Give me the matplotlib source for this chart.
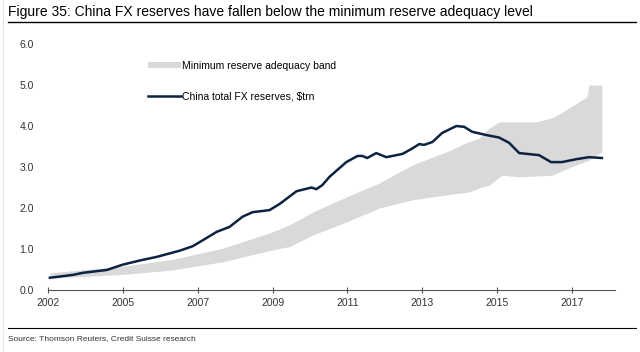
import matplotlib
matplotlib.use('Agg')
import matplotlib.pyplot as plt
from matplotlib.lines import Line2D
from matplotlib.patches import Patch

# China total FX reserves, $trn (x in fractional years)
res_year = [2003.05, 2003.67, 2003.93, 2004.57, 2005.0, 2005.45, 2005.91, 2006.52,
            2006.87, 2007.2, 2007.51, 2007.85, 2008.2, 2008.47, 2008.75, 2008.92,
            2009.19, 2009.64, 2010.04, 2010.17, 2010.33, 2010.52, 2010.97, 2011.27,
            2011.4, 2011.53, 2011.77, 2012.04, 2012.47, 2012.71, 2012.92, 2013.05,
            2013.27, 2013.53, 2013.91, 2014.12, 2014.33, 2014.71, 2015.05, 2015.32,
            2015.59, 2016.12, 2016.44, 2016.73, 2017.11, 2017.45, 2017.8]
reserves = [0.30, 0.37, 0.42, 0.49, 0.62, 0.72, 0.81, 0.96,
            1.07, 1.25, 1.42, 1.54, 1.79, 1.90, 1.93, 1.95,
            2.10, 2.41, 2.50, 2.46, 2.56, 2.76, 3.12, 3.27,
            3.27, 3.22, 3.34, 3.24, 3.32, 3.44, 3.56, 3.54,
            3.61, 3.83, 4.00, 3.98, 3.86, 3.78, 3.72, 3.59,
            3.34, 3.29, 3.12, 3.12, 3.19, 3.24, 3.22]

# Minimum reserve adequacy band
band_year = [2003.05, 2005.0, 2006.33, 2007.67, 2009.0, 2009.45, 2010.07, 2010.97,
             2011.85, 2012.73, 2013.64, 2014.25, 2014.52, 2014.79, 2015.05, 2015.13,
             2015.59, 2016.04, 2016.47, 2016.84, 2017.11, 2017.4, 2017.45, 2017.8]
band_low = [0.29, 0.38, 0.49, 0.69, 0.98, 1.06, 1.34, 1.66,
            2.00, 2.20, 2.32, 2.39, 2.49, 2.56, 2.75, 2.80,
            2.76, 2.78, 2.80, 2.95, 3.05, 3.15, 3.17, 3.37]
band_high = [0.42, 0.58, 0.75, 1.02, 1.42, 1.59, 1.90, 2.27,
             2.61, 3.05, 3.37, 3.62, 3.70, 3.95, 4.10, 4.10,
             4.10, 4.10, 4.20, 4.39, 4.55, 4.71, 5.00, 5.00]

tick_pos = [2003.0, 2005, 2007, 2009, 2011, 2013, 2015, 2017]
tick_labels = ["2002", "2005", "2007", "2009", "2011", "2013", "2015", "2017"]

plt.rcParams['font.family'] = ['Liberation Sans', 'DejaVu Sans']

fig = plt.figure(figsize=(6.4, 3.52), dpi=100)
ax = fig.add_axes([0.075, 0.176, 0.886, 0.699])

band_col = "#d9d9d9"
line_col = "#0b2341"

ax.fill_between(band_year, band_low, band_high, color=band_col, lw=0)
ax.plot(res_year, reserves, color=line_col, lw=1.8)

ax.set_xlim(2003.0, 2018.15)
ax.set_ylim(0, 6)
ax.set_yticks([0, 1, 2, 3, 4, 5, 6])
ax.set_yticklabels([f"{v:.1f}" for v in range(7)])
ax.set_xticks(tick_pos)
ax.set_xticklabels(tick_labels)

for s in ["top", "right", "left"]:
    ax.spines[s].set_visible(False)
ax.spines["bottom"].set_color("#555555")
ax.spines["bottom"].set_linewidth(0.8)
ax.tick_params(axis="y", length=0, pad=10, labelsize=7.5, labelcolor="#333333")
ax.tick_params(axis="x", direction="inout", length=5, width=0.8, color="#555555",
               pad=3, labelsize=7.5, labelcolor="#333333")

handles = [Patch(facecolor=band_col, edgecolor="none"),
           Line2D([], [], color=line_col, lw=1.8)]
ax.legend(handles, ["Minimum reserve adequacy band", "China total FX reserves, $trn"],
          loc="upper left", bbox_to_anchor=(0.16, 0.97), frameon=False,
          fontsize=7.5, handlelength=3.2, handletextpad=0.1, labelspacing=2.0,
          handleheight=0.5)

fig.text(0.012, 0.955, "Figure 35: China FX reserves have fallen below the minimum reserve adequacy level",
         fontsize=10, va="baseline", ha="left", color="black")
fig.add_artist(Line2D([0.012, 0.994], [0.938, 0.938], color="black", lw=1.0))
fig.add_artist(Line2D([0.012, 0.994], [0.068, 0.068], color="black", lw=0.8))
fig.add_artist(Line2D([0.004, 0.004], [0.0, 1.0], color="#e6e6e6", lw=0.8))
fig.text(0.012, 0.037, "Source: Thomson Reuters, Credit Suisse research",
         fontsize=6, va="center", ha="left", color="#333333")

fig.savefig("out.png", dpi=100)
